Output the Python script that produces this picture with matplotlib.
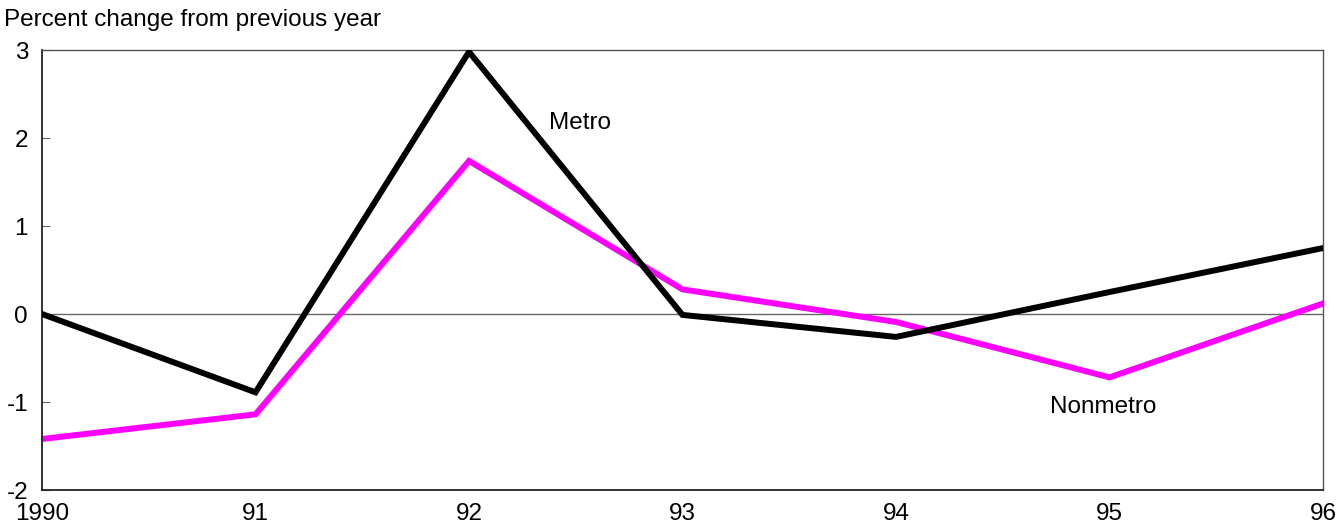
import numpy as np
import matplotlib.pyplot as plt

plt.rcParams['font.family'] = ['Liberation Sans', 'DejaVu Sans']

# data
years = [1990, 1991, 1992, 1993, 1994, 1995, 1996]
year_labels = ['1990', '91', '92', '93', '94', '95', '96']
metro = [0.0, -0.89, 2.98, -0.01, -0.26, 0.25, 0.75]
nonmetro = [-1.42, -1.14, 1.74, 0.28, -0.09, -0.72, 0.12]

fs = 17.5

fig = plt.figure(figsize=(13.38, 5.27), dpi=100)
ax = fig.add_axes([0.0314, 0.0702, 0.9574, 0.8348])

ax.axhline(0, color='#666666', lw=1, zorder=1)
ax.plot(years, metro, color='black', lw=4.3, solid_joinstyle='miter', zorder=3)
ax.plot(years, nonmetro, color='#FF00FF', lw=4.3, solid_joinstyle='miter', zorder=2)

ax.text(1992.52, 2.17, 'Metro', fontsize=fs, ha='center', va='center')
ax.text(1994.97, -1.06, 'Nonmetro', fontsize=fs, ha='center', va='center')

ax.set_xlim(1990, 1996)
ax.set_ylim(-2, 3)
ax.set_xticks(years)
ax.set_xticklabels(year_labels)
ax.set_yticks([-2, -1, 0, 1, 2, 3])
ax.set_yticklabels(['-2', '-1', '0', '1', '2', '3'])
ax.tick_params(axis='x', length=0, labelsize=fs, pad=9)
ax.tick_params(axis='y', direction='in', length=6, color='#666666', labelsize=fs, pad=10)
ax.get_xticklabels()[0].set_x(1989.96)

for s in ['left', 'bottom']:
    ax.spines[s].set_color('#222222')
    ax.spines[s].set_linewidth(1.3)
for s in ['top', 'right']:
    ax.spines[s].set_color('#555555')
    ax.spines[s].set_linewidth(1.0)

fig.text(0.003, 0.962, 'Percent change from previous year', fontsize=fs, ha='left', va='center')

fig.savefig('out.png', dpi=100)
